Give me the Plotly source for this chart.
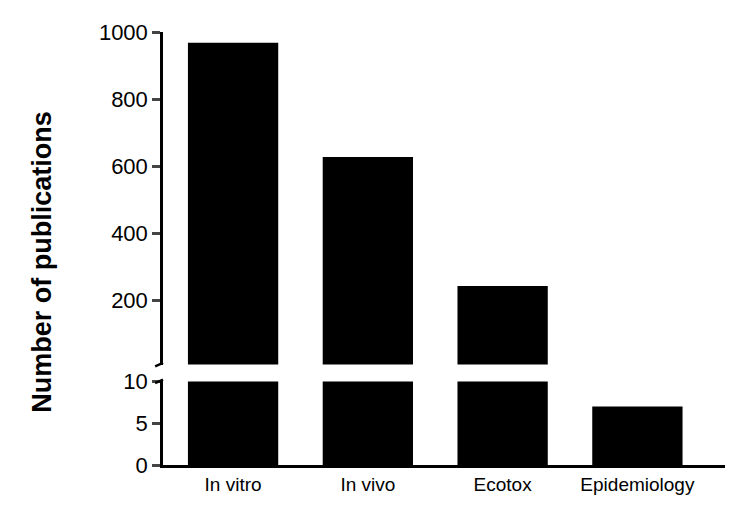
import plotly.graph_objects as go
from plotly.subplots import make_subplots

categories = ["In vitro", "In vivo", "Ecotox", "Epidemiology"]
publications = [968, 628, 244, 7]
upper_ticks = [200, 400, 600, 800, 1000]
lower_ticks = [0, 5, 10]

fig = make_subplots(rows=2, cols=1, shared_xaxes=True, vertical_spacing=0.04,
                    row_heights=[0.768, 0.193])

for row in (1, 2):
    fig.add_trace(go.Bar(x=categories, y=publications, marker_color="black",
                         marker_line_width=0, showlegend=False), row=row, col=1)

font = dict(family="Arial, Liberation Sans", size=22, color="black")
fig.update_layout(
    width=737, height=515, plot_bgcolor="white", paper_bgcolor="white",
    margin=dict(l=155, r=20, t=22, b=58), bargap=0.33, font=font,
)
fig.update_yaxes(domain=[0.232, 1.0], range=[10, 1000], tickvals=upper_ticks,
                 showline=True, linecolor="black", linewidth=2.5, ticks="outside",
                 ticklen=8, tickwidth=2.5, showgrid=False, zeroline=False, row=1, col=1)
fig.update_yaxes(domain=[0.0, 0.193], range=[0, 10], tickvals=lower_ticks,
                 showline=True, linecolor="black", linewidth=2.5, ticks="outside",
                 ticklen=8, tickwidth=2.5, showgrid=False, zeroline=False, row=2, col=1)
fig.update_xaxes(range=[-0.52, 3.65], showgrid=False, showline=False, ticks="", row=1, col=1)
fig.update_xaxes(range=[-0.52, 3.65], showgrid=False, showline=True, linecolor="black",
                 linewidth=2.5, ticks="", tickfont=dict(size=19), row=2, col=1)

# break marks on the y axis
for yb in (0.232, 0.193):
    fig.add_shape(type="line", xref="paper", yref="paper", x0=-0.014, x1=0.0,
                  y0=yb - 0.004, y1=yb + 0.004, line=dict(color="black", width=2.5))

fig.add_annotation(text="<b>Number of publications</b>", xref="paper", yref="paper",
                   x=-0.245, y=0.47, textangle=-90, showarrow=False,
                   font=dict(family="Arial, Liberation Sans", size=27, color="black"))

fig.write_html("out.html")
